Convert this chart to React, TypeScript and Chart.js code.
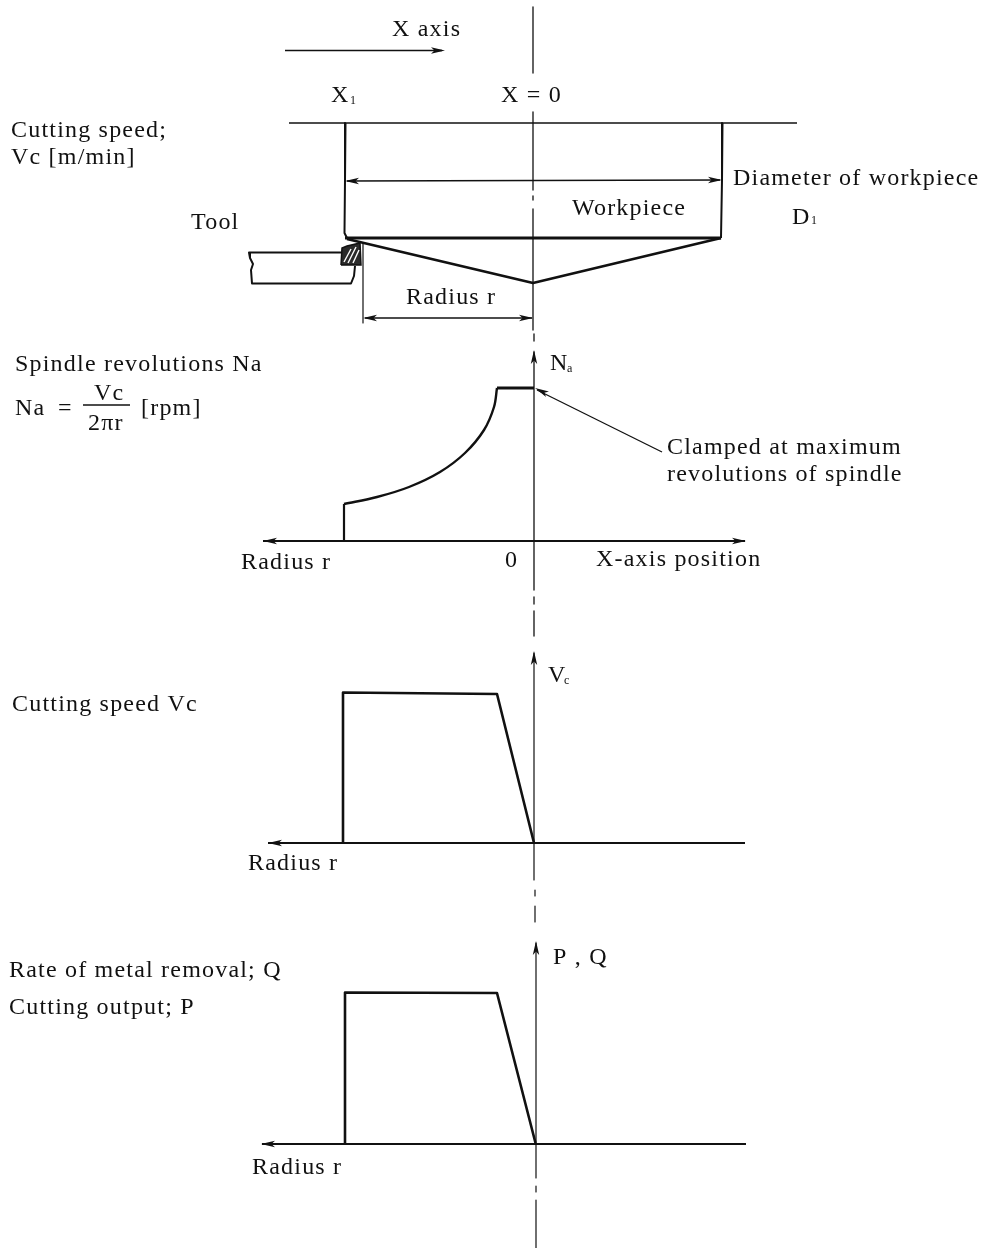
import React, { useEffect, useRef } from "react";
import { Chart, registerables } from "chart.js";

Chart.register(...registerables);

type P = [number, number | null];

// ---- Line work, in drawing units ----
const centerLine: P[] = [[533, 7], [533, 73], [533, null], [533, 112], [533, 190], [533, null], [533, 196], [533, 200], [533, null], [533, 209], [533, 330], [533, null], [534, 334], [534, 341], [534, null], [534, 352], [534, 590], [534, null], [534, 597], [534, 604], [534, null], [534, 611], [534, 636]];
const vcAxisLine: P[] = [[534, 653], [534, 880], [534, null], [535, 890], [535, 896], [535, null], [535, 906], [535, 922]];
const pqAxisLine: P[] = [[536, 943], [536, 1178], [536, null], [536, 1186], [536, 1192], [536, null], [536, 1200], [536, 1248]];
const xAxisArrowLine: P[] = [[285, 50.5], [442, 50.5]];
const topSurface: P[] = [[289, 123], [797, 123]];
const workpieceLeft: P[] = [[345.5, 123], [345, 180], [344.5, 233], [347, 238]];
const workpieceRight: P[] = [[722.5, 123], [722, 180], [721, 238]];
const workpieceBottom: P[] = [[345, 238], [721, 238]];
const workpieceCone: P[] = [[347, 239], [533, 283], [721, 238]];
const diameterLine: P[] = [[347, 181], [720, 180]];
const toolShank: P[] = [[341, 252.5], [249, 252.5], [250, 258], [253, 264], [251, 270], [252, 283.5], [351, 283.5], [354, 276], [355, 266]];
const toolInsert: P[] = [[341, 265], [342, 248], [347, 246], [360, 243], [361, 265], [341, 265]];
const insertHatchA: P[] = [[344, 262], [351, 249]];
const insertHatchB: P[] = [[348, 263], [356, 247]];
const insertHatchC: P[] = [[353, 263], [359, 250]];
const radiusWitness: P[] = [[363, 243], [363, 323]];
const radiusLine: P[] = [[365, 318], [532, 318]];
const spindleAxis: P[] = [[263, 541], [745, 541]];
const spindleRise: P[] = [[344, 541], [344, 504]];
const spindleCurve: P[] = [[344, 504], [377, 497], [409, 487], [440, 472], [465, 453], [484, 430], [494, 407], [497, 388]];
const spindleClamp: P[] = [[497, 388], [534, 388]];
const clampLeader: P[] = [[537, 390], [662, 452]];
const speedAxis: P[] = [[268, 843], [745, 843]];
const speedShape: P[] = [[343, 843], [343, 692.5], [497, 694], [534, 843]];
const outputAxis: P[] = [[262, 1144], [746, 1144]];
const outputShape: P[] = [[345, 1144], [345, 992.5], [497, 993], [535.5, 1143]];
const fractionBar: P[] = [[83, 405], [130, 405]];

// ---- Arrow heads: tip, and the point the head points away from ----
const arrowTips: [number, number][] = [[445, 50.5], [345, 181], [722, 180], [363, 318], [533, 318], [534, 350], [263, 541], [746, 541], [535, 388], [534, 651], [268, 843], [536, 941], [261, 1144]];
const arrowFroms: [number, number][] = [[425, 50.5], [365, 181], [702, 180], [383, 318], [513, 318], [534, 370], [283, 541], [726, 541], [553, 397], [534, 671], [288, 843], [536, 961], [281, 1144]];

// ---- Labels ----
const labelTexts = ["X axis", "X", "X = 0", "Cutting speed;", "Vc [m/min]", "Diameter of workpiece", "Workpiece", "D", "Tool", "Radius r", "Spindle revolutions Na", "Na", "=", "Vc", "2πr", "[rpm]", "N", "Clamped at maximum", "revolutions of spindle", "Radius r", "0", "X-axis position", "V", "Cutting speed Vc", "Radius r", "P , Q", "Rate of metal removal; Q", "Cutting output; P", "Radius r"];
const labelXs = [392, 331, 501, 11, 11, 733, 572, 792, 191, 406, 15, 15, 58, 94, 88, 141, 550, 667, 667, 241, 505, 596, 548, 12, 248, 553, 9, 9, 252];
const labelYs = [36, 102, 102, 137, 164, 185, 215, 224, 229, 304, 371, 415, 415, 400, 430, 415, 370, 454, 481, 569, 567, 566, 682, 711, 870, 964, 977, 1014, 1174];
const subTexts = ["1", "1", "a", "c"];
const subXs = [350, 811, 567, 564];
const subYs = [104, 224, 372, 684];

const thin = 1.3;
const medium = 2;
const thick = 2.8;

const ink = "#111111";

const lineSets: [P[], number, number][] = [
  [centerLine, 1.3, 0], [vcAxisLine, 1.2, 0], [pqAxisLine, 1.2, 0], [xAxisArrowLine, thin, 0], [topSurface, 1.7, 0],
  [workpieceLeft, medium, 0], [workpieceRight, medium, 0], [workpieceBottom, thick, 0], [workpieceCone, thick, 0],
  [diameterLine, thin, 0], [toolShank, medium, 0], [radiusWitness, 1.2, 0], [radiusLine, thin, 0],
  [spindleAxis, 1.8, 0], [spindleRise, 2.2, 0], [spindleCurve, 2.4, 0.35], [spindleClamp, 3.2, 0], [clampLeader, 1.3, 0],
  [speedAxis, 1.8, 0], [speedShape, 2.6, 0],
  [outputAxis, 1.8, 0], [outputShape, 2.6, 0], [fractionBar, 1.4, 0],
];

const toData = (pts: P[]) => pts.map(([x, y]) => ({ x, y }));

const annotate = {
  id: "annotate",
  afterDatasetsDraw(chart: any) {
    const { ctx, scales } = chart;
    const px = (v: number) => scales.x.getPixelForValue(v);
    const py = (v: number) => scales.y.getPixelForValue(v);
    ctx.save();
    ctx.fillStyle = ink;
    arrowTips.forEach(([tx, ty], i) => {
      const [fx, fy] = arrowFroms[i];
      const x0 = px(tx);
      const y0 = py(ty);
      const a = Math.atan2(py(fy) - y0, px(fx) - x0);
      const len = 14;
      const half = 3.2;
      ctx.beginPath();
      ctx.moveTo(x0, y0);
      ctx.lineTo(x0 + len * Math.cos(a) - half * Math.sin(a), y0 + len * Math.sin(a) + half * Math.cos(a));
      ctx.lineTo(x0 + len * 0.75 * Math.cos(a), y0 + len * 0.75 * Math.sin(a));
      ctx.lineTo(x0 + len * Math.cos(a) + half * Math.sin(a), y0 + len * Math.sin(a) - half * Math.cos(a));
      ctx.closePath();
      ctx.fill();
    });
    ctx.textBaseline = "alphabetic";
    ctx.textAlign = "left";
    ctx.font = '24px "Liberation Serif", serif';
    (ctx as any).letterSpacing = "1.2px";
    labelTexts.forEach((t, i) => ctx.fillText(t, px(labelXs[i]), py(labelYs[i])));
    ctx.font = '12px "Liberation Serif", serif';
    (ctx as any).letterSpacing = "0px";
    subTexts.forEach((t, i) => ctx.fillText(t, px(subXs[i]), py(subYs[i])));
    ctx.restore();
  },
};

export default function App() {
  const ref = useRef<HTMLCanvasElement>(null);
  useEffect(() => {
    if (!ref.current) return;
    const datasets: any[] = lineSets.map(([pts, w, curve]) => ({
      data: toData(pts),
      borderColor: ink,
      borderWidth: w,
      pointRadius: 0,
      showLine: true,
      tension: curve,
      spanGaps: false,
      clip: false,
      borderJoinStyle: "round",
      order: 2,
    }));
    datasets.push({
      data: toData(toolInsert),
      borderColor: ink,
      backgroundColor: "#2a2a2a",
      borderWidth: 1.5,
      pointRadius: 0,
      showLine: true,
      fill: "shape",
      clip: false,
      order: 1,
    });
    [insertHatchA, insertHatchB, insertHatchC].forEach((h) =>
      datasets.push({ data: toData(h), borderColor: "#ffffff", borderWidth: 1.4, pointRadius: 0, showLine: true, clip: false, order: 0 })
    );
    const chart = new Chart(ref.current, {
      type: "scatter",
      data: { datasets },
      options: {
        animation: false,
        responsive: false,
        layout: { padding: 0 },
        plugins: { legend: { display: false }, tooltip: { enabled: false }, title: { display: false } },
        scales: {
          x: { type: "linear", display: false, min: 0, max: 985 },
          y: { type: "linear", display: false, min: 0, max: 1248, reverse: true },
        },
      },
      plugins: [annotate],
    } as any);
    return () => chart.destroy();
  }, []);
  return (
    <div style={{ position: "absolute", left: 0, top: 0, width: 985, height: 1248, background: "#ffffff" }}>
      <canvas ref={ref} width={985} height={1248} style={{ display: "block" }} />
    </div>
  );
}
